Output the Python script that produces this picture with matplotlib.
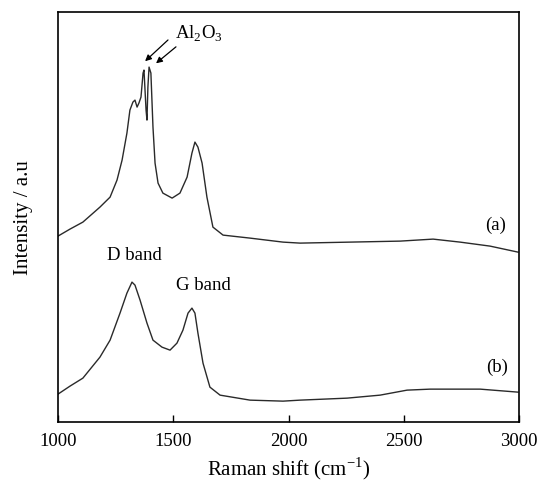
import matplotlib

matplotlib.use("Agg")
import matplotlib.pyplot as plt

plt.rcParams["font.family"] = ["Liberation Serif", "DejaVu Serif"]
plt.rcParams["mathtext.fontset"] = "custom"
plt.rcParams["mathtext.rm"] = "Liberation Serif"

# spectrum (a): Raman shift (cm-1) and intensity (a.u.)
shift_a = [1000, 1052, 1108, 1182, 1226, 1256, 1278, 1299, 1312, 1325, 1334,
           1343, 1351, 1360, 1369, 1373, 1382, 1386, 1390, 1395, 1403, 1412,
           1421, 1434, 1455, 1495, 1529, 1560, 1581, 1594, 1607, 1625, 1646,
           1672, 1716, 1833, 1976, 2050, 2267, 2484, 2627, 2744, 2874, 2995]
inten_a = [186, 193, 200, 215, 225, 242, 262, 289, 312, 320, 322,
           315, 319, 325, 349, 352, 312, 302, 335, 355, 349, 295,
           259, 239, 229, 224, 229, 245, 269, 280, 275, 259, 225,
           195, 187, 184, 180, 179, 180, 181, 183, 180, 176, 170]

# spectrum (b)
shift_b = [1000, 1052, 1108, 1182, 1226, 1269, 1299, 1321, 1334, 1356, 1386,
           1412, 1451, 1486, 1516, 1542, 1564, 1581, 1594, 1607, 1629, 1659,
           1703, 1833, 1976, 2050, 2254, 2397, 2514, 2614, 2831, 2995]
inten_b = [28, 36, 44, 65, 82, 109, 129, 140, 137, 122, 99,
           82, 75, 72, 79, 92, 109, 114, 109, 89, 59, 35,
           27, 22, 21, 22, 24, 27, 32, 33, 33, 30]

x_ticks = [1000, 1500, 2000, 2500, 3000]


def drawSpectra(ax):
    ax.plot(shift_a, inten_a, color="#2a2a2a", lw=1.0)
    ax.plot(shift_b, inten_b, color="#2a2a2a", lw=1.0)


def addLabels(ax):
    ax.text(1612, 388, r"Al$_2$O$_3$", fontsize=13.5, ha="center", va="center")
    arrow = dict(arrowstyle="-|>", color="black", lw=0.9, mutation_scale=9)
    ax.annotate("", xy=(1369, 359), xytext=(1486, 384), arrowprops=arrow)
    ax.annotate("", xy=(1416, 357), xytext=(1521, 377), arrowprops=arrow)
    ax.text(2896, 197, "(a)", fontsize=13.5, ha="center", va="center")
    ax.text(2904, 55, "(b)", fontsize=13.5, ha="center", va="center")
    ax.text(1330, 167, "D band", fontsize=13.5, ha="center", va="center")
    ax.text(1629, 137, "G band", fontsize=13.5, ha="center", va="center")


fig = plt.figure(figsize=(5.47, 4.83), dpi=100)
ax = fig.add_axes([0.106, 0.126, 0.843, 0.849])
drawSpectra(ax)
addLabels(ax)

ax.set_xlim(1000, 3000)
ax.set_ylim(0, 410)
ax.set_xticks(x_ticks)
ax.set_yticks([])
ax.tick_params(axis="x", direction="in", length=5, width=1, labelsize=13.5, pad=8)
for spine in ax.spines.values():
    spine.set_linewidth(1.2)

ax.set_xlabel(r"Raman shift (cm$^{\mathregular{-1}}$)", fontsize=15, labelpad=4)
ax.set_ylabel("Intensity / a.u", fontsize=15, labelpad=18)

fig.savefig("out.png", dpi=100)
